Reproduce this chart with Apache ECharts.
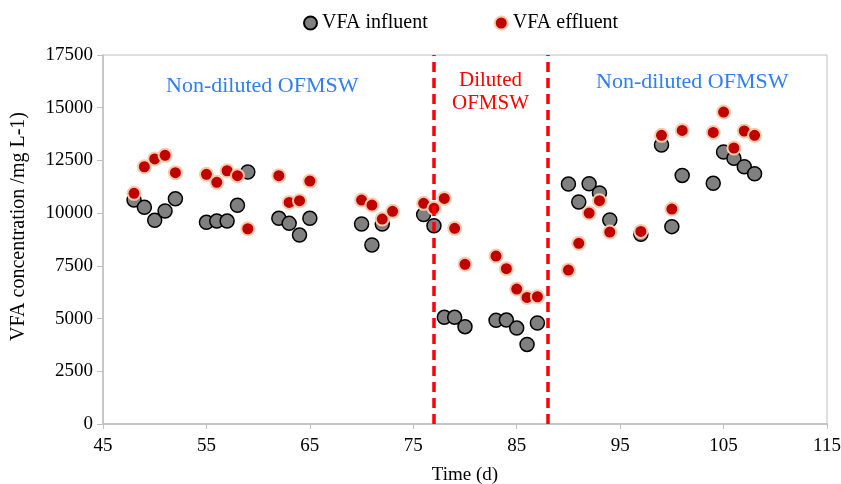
<!DOCTYPE html>
<html>
<head>
<meta charset="utf-8">
<script src="https://cdn.jsdelivr.net/npm/echarts@6/dist/echarts.min.js"></script>
<style>
  html, body { margin: 0; padding: 0; background: #fff; }
  #chart { width: 841px; height: 484px; }
</style>
</head>
<body>
<div id="chart"></div>
<script>
// days (d) and VFA concentration (mg/L)
const influentDays = [48, 49, 50, 51, 52, 55, 56, 57, 58, 59, 62, 63, 64, 65, 70, 71, 72,
  76, 77, 78, 79, 80, 83, 84, 85, 86, 87, 90, 91, 92, 93, 94, 97, 99, 100, 101, 104, 105, 106, 107, 108]
const influentVals = [10620, 10275, 9660, 10100, 10680, 9565, 9625, 9625, 10370, 11950, 9755, 9515, 8960, 9755, 9485, 8490, 9485,
  9930, 9400, 5060, 5060, 4615, 4915, 4930, 4550, 3775, 4790, 11380, 10530, 11395, 10955, 9675, 8995, 13230, 9360, 11790, 11415, 12900, 12600, 12200, 11870]

const effluentDays = [48, 49, 50, 51, 52, 55, 56, 57, 58, 59, 62, 63, 64, 65, 70, 71, 72, 73,
  76, 77, 78, 79, 80, 83, 84, 85, 86, 87, 90, 91, 92, 93, 94, 97, 99, 100, 101, 104, 105, 106, 107, 108]
const effluentVals = [10940, 12200, 12570, 12740, 11920, 11840, 11460, 12010, 11775, 9260, 11775, 10510, 10590, 11520, 10620, 10385, 9720, 10085,
  10465, 10230, 10700, 9280, 7575, 7965, 7365, 6400, 6005, 6035, 7300, 8570, 10005, 10590, 9105, 9135, 13690, 10195, 13925, 13830, 14795, 13090, 13895, 13690]

// phase boundaries (dilution period)
const phaseLines = [77, 88]

const serif = '"Liberation Serif", "Times New Roman", serif'
const axisGrey = '#BFBFBF'

const chart = echarts.init(document.getElementById('chart'))

chart.setOption({
  animation: false,
  textStyle: { fontFamily: serif },
  legend: {
    top: 8,
    left: 298,
    itemGap: 66,
    itemWidth: 13,
    itemHeight: 13,
    textStyle: { fontFamily: serif, fontSize: 20, color: '#000' },
    data: ['VFA influent', 'VFA effluent']
  },
  grid: {
    left: 103, right: 14, top: 55, bottom: 60,
    containLabel: false, outerBoundsMode: 'none',
    show: true, borderColor: axisGrey, borderWidth: 1
  },
  xAxis: {
    type: 'value',
    min: 45,
    max: 115,
    interval: 10,
    name: 'Time (d)',
    nameLocation: 'middle',
    nameGap: 42,
    nameTextStyle: { fontFamily: serif, fontSize: 19, color: '#000' },
    axisLine: { lineStyle: { color: axisGrey, width: 1.5 } },
    axisTick: { inside: false, length: 5, lineStyle: { color: axisGrey } },
    axisLabel: { fontFamily: serif, fontSize: 19, color: '#000', margin: 13 },
    splitLine: { show: false }
  },
  yAxis: {
    type: 'value',
    min: 0,
    max: 17500,
    interval: 2500,
    name: 'VFA concentration /mg L-1)',
    nameLocation: 'middle',
    nameGap: 74,
    nameTextStyle: { fontFamily: serif, fontSize: 20, color: '#000', padding: [0, 0, 0, 26] },
    axisLine: { show: true, lineStyle: { color: axisGrey, width: 1.5 } },
    axisTick: { show: true, length: 6, lineStyle: { color: axisGrey } },
    axisLabel: { fontFamily: serif, fontSize: 19, color: '#000', margin: 10, formatter: v => String(v) },
    splitLine: { show: false }
  },
  series: [
    {
      name: 'VFA influent',
      type: 'scatter',
      symbol: 'circle',
      symbolSize: 14,
      itemStyle: { color: '#808080', borderColor: '#000', borderWidth: 1.5, opacity: 1 },
      data: influentDays.map((d, i) => [d, influentVals[i]]),
      markLine: {
        silent: true,
        symbol: ['none', 'none'],
        label: { show: false },
        lineStyle: { color: '#FF0000', width: 3.5, type: [10, 6] },
        data: phaseLines.map(x => ({ xAxis: x }))
      }
    },
    {
      name: 'VFA effluent',
      type: 'scatter',
      symbol: 'circle',
      symbolSize: 13,
      itemStyle: { color: '#C00000', borderColor: '#F8CBAD', borderWidth: 2, opacity: 1 },
      data: effluentDays.map((d, i) => [d, effluentVals[i]])
    }
  ],
  graphic: [
    { type: 'text', left: 166, top: 75, style: { text: 'Non-diluted OFMSW', font: '22px ' + serif, fill: '#2F7FF0' } },
    { type: 'text', left: 596, top: 71, style: { text: 'Non-diluted OFMSW', font: '22px ' + serif, fill: '#2F7FF0' } },
    { type: 'text', left: 459, top: 70, style: { text: 'Diluted', font: '21px ' + serif, fill: '#FF0000' } },
    { type: 'text', left: 452, top: 93, style: { text: 'OFMSW', font: '21px ' + serif, fill: '#FF0000' } }
  ]
})
</script>
</body>
</html>
